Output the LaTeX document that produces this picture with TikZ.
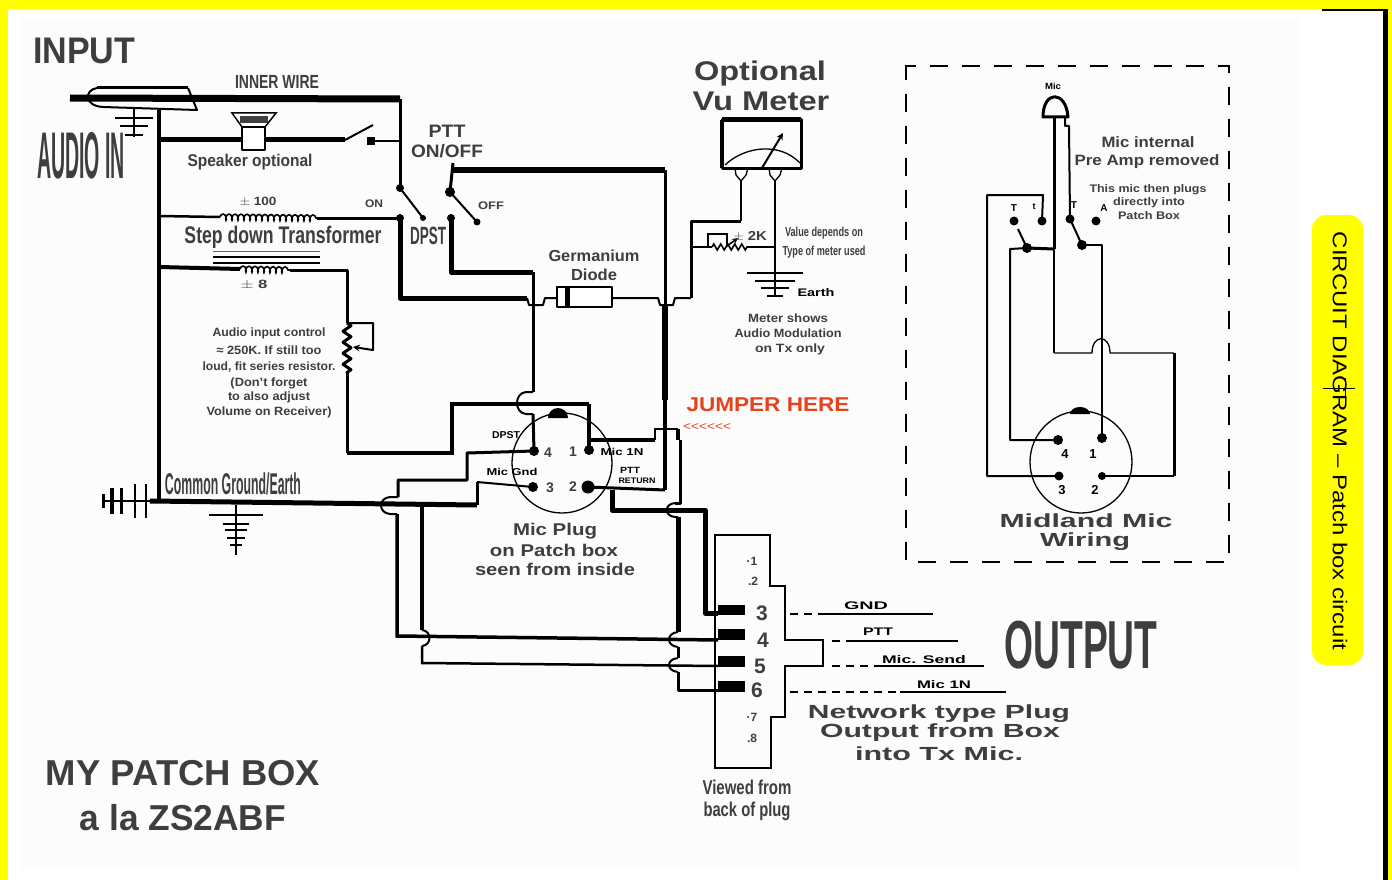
\documentclass[tikz,border=0pt]{standalone}
\usepackage{graphicx}
\usepackage{fontspec}
\setsansfont{Liberation Sans}
\usetikzlibrary{decorations.pathmorphing}
% squeeze text to a given width: width, font size, text
\newcommand{\fitw}[3]{\fontsize{#2}{#2}\selectfont\resizebox{#1pt}{\height}{#3}}

\begin{document}
\begin{tikzpicture}[x=1pt,y=-1pt,
    lbl/.style={inner sep=0pt,text=textgray,font=\sffamily},
    blbl/.style={inner sep=0pt,text=textgray,font=\sffamily\bfseries},
    wire/.style={line width=3pt,line join=round},
    fatwire/.style={line width=5pt,line join=round},
    thinwire/.style={line width=2pt,line join=round},
    hair/.style={line width=1.3pt,line join=round},
    pinnode/.style={circle,fill=black,inner sep=0pt,minimum size=#1},
    pinnode/.default=10pt]
    % Define colors
    \definecolor{framecolor}{RGB}{255,255,0}
    \definecolor{papercolor}{RGB}{252,252,252}
    \definecolor{textgray}{RGB}{62,62,62}
    \definecolor{jumpercolor}{RGB}{232,66,26}

    % Draw background
    \useasboundingbox (0,0) rectangle (1392,880);
    \fill[framecolor] (0,0) rectangle (1392,880);
    \fill[white] (8,9) rectangle (1383,880);
    \fill[papercolor] (19,18) rectangle (1299,870);
    \fill[black] (1383,9) rectangle (1388,880);
    \draw[line width=2pt] (1322,10) -- (1384,10);

    % Titles
    \node[blbl] (inputtitle) at (84,51) {\fitw{102}{37}{INPUT}};
    \node[blbl] (audioin) at (81,156) {\fitw{88}{66}{AUDIO IN}};
    \node[blbl] (patchtitle) at (183,773) {\fitw{274}{36}{MY PATCH BOX}};
    \node[blbl] (zstitle) at (183,818) {\fitw{206}{36}{a la ZS2ABF}};
    \node[blbl] (outputtitle) at (1081,645) {\fitw{153}{68}{OUTPUT}};

    % Jack and inner wire
    \coordinate (jackl) at (70,98);
    \coordinate (innerr) at (400,99);
    \draw[line width=7pt] (jackl) -- (innerr);
    \coordinate (jacka) at (97,88);
    \coordinate (jackb) at (188,88);
    \coordinate (jackc) at (197,110);
    \coordinate (jackd) at (103,107);
    \draw[thinwire] (jackd) .. controls (84,106) and (84,90) .. (jacka);
    \draw[wire] (jacka) -- (jackb);
    \draw[thinwire] (jackb) -- (jackc) -- (jackd);
    \node[blbl] (innerlabel) at (277,82) {\fitw{84}{19}{INNER WIRE}};

    % Earth at the jack
    \coordinate (jackgnd) at (134,108);
    \coordinate (jackgndb) at (134,137);
    \draw[thinwire] (jackgnd) -- (jackgndb);
    \foreach \yy/\hw in {118/19,126/14,135/9}
        \draw[line width=1.4pt] (134-\hw,\yy) -- (134+\hw,\yy);

    % Common rail
    \coordinate (railtop) at (159,110);
    \coordinate (railbot) at (159,501);
    \draw[line width=4.5pt] (railtop) -- (railbot);

    % Speaker branch
    \coordinate (spkl) at (159,140);
    \coordinate (spka) at (242,140);
    \coordinate (spkb) at (265,140);
    \coordinate (swa) at (345,140);
    \coordinate (swb) at (373,125);
    \coordinate (swr) at (400,141);
    \draw[fatwire] (spkl) -- (spka);
    \draw[fatwire] (spkb) -- (swa);
    \draw[thinwire] (swa) -- (swb);
    \node[fill=black,inner sep=0pt,minimum size=8pt] (swcontact) at (371,141) {};
    \draw[thinwire] (swcontact.center) -- (swr);
    \draw[thinwire,fill=white] (242,127) rectangle (265,150);
    \draw[line width=1.5pt,fill=white] (232,113) -- (276,113) -- (265,127) -- (242,127) -- cycle;
    \fill[black!75] (240,116) rectangle (268,123);
    \node[blbl] (spklabel) at (250,162) {\fitw{125}{17}{Speaker optional}};

    % DPST switch, first half
    \node[pinnode=8pt] (dpsta) at (400,188) {};
    \node[pinnode=8pt] (dpstc) at (400,218) {};
    \node[pinnode=6pt] (dpstb) at (423,218) {};
    \draw[wire] (innerr) -- (dpsta.center);
    \draw[thinwire] (dpsta.center) -- (dpstb.center);
    \node[blbl] (onlabel) at (374,204) {\fitw{18}{11}{ON}};

    % DPST switch, second half
    \node[pinnode=10pt] (ptta) at (450,192) {};
    \node[pinnode=8pt] (pttc) at (451,218) {};
    \node[pinnode=7pt] (pttb) at (477,222) {};
    \draw[thinwire] (ptta.center) -- (pttb.center);
    \node[blbl] (offlabel) at (491,206) {\fitw{26}{11}{OFF}};
    \node[blbl] (pttlabel) at (447,131) {\fitw{37}{18}{PTT}};
    \node[blbl] (pttonoff) at (447,151) {\fitw{72}{18}{ON/OFF}};
    \node[blbl] (dpstlabel) at (428,236) {\fitw{36}{25}{DPST}};

    % Transformer primary
    \coordinate (prima) at (159,216);
    \coordinate (primb) at (220,217);
    \coordinate (primc) at (317,218);
    \draw[line width=2.5pt] (prima) -- (primb);
    \draw[line width=1.6pt,decorate,decoration={coil,segment length=6pt,amplitude=3pt}] (primb) -- (primc);
    \draw[wire] (primc) -- (dpstc.center);
    \node[blbl] (primratio) at (258,202) {\fitw{37}{12}{$\pm$ 100}};
    \node[blbl] (steplabel) at (283,237) {\fitw{197}{24}{Step down Transformer}};

    % Transformer core
    \draw[line width=.6pt,black!60] (213,251) -- (320,251);
    \draw[line width=1.6pt] (213,257) -- (320,257);
    \draw[line width=1.6pt] (213,263) -- (320,263);

    % Transformer secondary and volume pot
    \coordinate (seca) at (159,267);
    \coordinate (secb) at (240,269);
    \coordinate (secc) at (290,270);
    \coordinate (seccorner) at (347,270);
    \coordinate (pota) at (347,323);
    \coordinate (potb) at (347,373);
    \coordinate (potc) at (347,453);
    \coordinate (potd) at (452,453);
    \coordinate (pote) at (452,404);
    \coordinate (potf) at (589,404);
    \coordinate (wipa) at (373,323);
    \coordinate (wipb) at (373,350);
    \coordinate (wipc) at (353,347);
    \draw[line width=4pt] (seca) -- (secb);
    \draw[line width=1.6pt,decorate,decoration={coil,segment length=6pt,amplitude=3pt}] (secb) -- (secc);
    \draw[wire] (secc) -- (seccorner) -- (pota);
    \draw[wire,decorate,decoration={zigzag,segment length=11pt,amplitude=4pt}] (pota) -- (potb);
    \draw[thinwire,->,>=stealth] (pota) -- (wipa) -- (wipb) -- (wipc);
    \node[blbl] (secratio) at (254,285) {\fitw{27}{12}{$\pm$ 8}};
    \node[blbl] (aua) at (269,333) {\fitw{113}{12}{Audio input control}};
    \node[blbl] (aub) at (269,350) {\fitw{105}{12}{≈ 250K. If still too}};
    \node[blbl] (auc) at (269,367) {\fitw{133}{12}{loud, fit series resistor.}};
    \node[blbl] (aud) at (269,383) {\fitw{77}{12}{(Don't forget}};
    \node[blbl] (aue) at (269,397) {\fitw{82}{12}{to also adjust}};
    \node[blbl] (auf) at (269,412) {\fitw{125}{12}{Volume on Receiver)}};

    % Earth bus
    \coordinate (busl) at (103,501);
    \coordinate (busr) at (477,505);
    \coordinate (busup) at (477,482);
    \draw[line width=5pt] (150,501) -- (busr);
    \draw[wire] (busr) -- (busup);
    \draw[thinwire] (busl) -- (150,501);
    \foreach \xx/\hh/\wd in {103/7/3,112/13/4,121/13/3,135/17/2.5,146/17/2.5}
        \draw[line width=\wd pt] (\xx,501-\hh) -- (\xx,501+\hh);
    \node[blbl] (commonlabel) at (233,484) {\fitw{136}{30}{Common Ground/Earth}};

    % Earth below the bus
    \coordinate (gndtop) at (236,505);
    \coordinate (gndbot) at (236,555);
    \draw[thinwire] (gndtop) -- (gndbot);
    \foreach \yy/\hw in {515/27,524/13,530/11,538/9,545/6}
        \draw[line width=1.6pt] (236-\hw,\yy) -- (236+\hw,\yy);

    % Mic plug on the patch box
    \draw[line width=1.3pt] (562,463) circle (50);
    \fill[black] (548,418) -- (568,418) arc (0:-180:10) -- cycle;
    \node[pinnode=10pt] (pfour) at (534,451) {};
    \node[pinnode=10pt] (pone) at (589,450) {};
    \node[pinnode=10pt] (pthree) at (533,487) {};
    \node[pinnode=13pt] (ptwo) at (588,487) {};
    \node[blbl] (dfour) at (548,453) {\fontsize{14}{14}\selectfont 4};
    \node[blbl] (done) at (573,452) {\fontsize{14}{14}\selectfont 1};
    \node[blbl] (dthree) at (550,488) {\fontsize{14}{14}\selectfont 3};
    \node[blbl] (dtwo) at (573,487) {\fontsize{14}{14}\selectfont 2};
    \node[blbl,text=black] (plabfour) at (506,435) {\fitw{28}{10}{DPST}};
    \node[blbl,text=black] (plabthree) at (512,472) {\fitw{51}{10}{Mic Gnd}};
    \node[blbl,text=black] (plabone) at (622,452) {\fitw{43}{10}{Mic 1N}};
    \node[blbl,text=black] (plabptt) at (630,470) {\fitw{20}{9}{PTT}};
    \node[blbl,text=black] (plabret) at (637,481) {\fitw{37}{8}{RETURN}};
    \node[blbl] (pluga) at (555,531) {\fitw{84}{17}{Mic Plug}};
    \node[blbl] (plugb) at (554,550) {\fitw{128}{17}{on Patch box}};
    \node[blbl] (plugc) at (555,569) {\fitw{160}{17}{seen from inside}};

    % Third pin to earth bus
    \draw[thinwire] (busup) -- (pthree.center);

    % Fourth pin, hops over the bus and runs to the plug
    \coordinate (fa) at (467,453);
    \coordinate (fb) at (467,480);
    \coordinate (fc) at (398,480);
    \coordinate (fd) at (398,497);
    \coordinate (fe) at (390,497);
    \coordinate (ff) at (390,514);
    \coordinate (fg) at (397,514);
    \coordinate (fh) at (397,636);
    \coordinate (fi) at (718,640);
    \draw[wire] (pfour.center) -- (fa) -- (fb) -- (fc) -- (fd);
    \draw[thinwire] (fd) -- (fe) .. controls (378,498) and (378,513) .. (ff) -- (fg);
    \draw[line width=3.5pt] (fg) -- (fh) -- (fi);

    % Ptt feed
    \coordinate (topcap) at (453,163);
    \coordinate (topl) at (453,170);
    \coordinate (topr) at (665,170);
    \coordinate (vhop) at (665,305);
    \coordinate (vmid) at (665,400);
    \coordinate (vbot) at (665,490);
    \coordinate (vjoin) at (612,490);
    \coordinate (vjoinb) at (612,510);
    \coordinate (vright) at (705,510);
    \coordinate (vdown) at (705,613);
    \coordinate (vplug) at (718,613);
    \draw[line width=6pt] (topl) -- (topr);
    \draw[wire] (ptta.center) -- (topcap);
    \draw[wire] (topr) -- (vhop);
    \draw[line width=6pt] (vhop) -- (vmid);
    \draw[line width=4.5pt] (vmid) -- (vbot);
    \draw[wire] (vbot) -- (ptwo.center);
    \draw[fatwire] (vjoin) -- (vjoinb) -- (vright) -- (vdown) -- (vplug);

    % Diode branch
    \coordinate (pttlow) at (451,272);
    \coordinate (pttmid) at (533,272);
    \coordinate (dpstlow) at (400,298);
    \coordinate (hopa) at (527,298);
    \coordinate (hopb) at (545,298);
    \coordinate (diodel) at (557,298);
    \coordinate (dioder) at (612,298);
    \coordinate (hopc) at (658,298);
    \coordinate (hopd) at (675,298);
    \coordinate (meterl) at (691,298);
    \coordinate (meterm) at (691,221);
    \coordinate (metern) at (741,221);
    \draw[fatwire] (dpstc.center) -- (dpstlow) -- (hopa);
    \draw[fatwire] (pttc.center) -- (pttlow) -- (pttmid);
    \draw[wire] (pttmid) -- (533,392);
    \draw[thinwire] (hopa) -- (529,305) -- (543,305) -- (hopb) -- (diodel);
    \draw[thinwire] (dioder) -- (hopc) -- (660,305) -- (673,305) -- (hopd) -- (meterl);
    \draw[wire] (meterl) -- (meterm) -- (metern);
    \draw[thinwire,fill=white] (557,287) rectangle (612,307);
    \fill[black] (565,287) rectangle (570,307);
    \node[blbl] (gera) at (594,256) {\fitw{91}{16}{Germanium}};
    \node[blbl] (gerb) at (594,275) {\fitw{46}{16}{Diode}};

    % Pin wires around the plug
    \coordinate (xa) at (533,392);
    \coordinate (xb) at (526,392);
    \coordinate (xc) at (526,414);
    \coordinate (xd) at (533,414);
    \draw[thinwire] (xa) -- (xb) .. controls (514,393) and (514,413) .. (xc) -- (xd);
    \draw[wire] (xd) -- (pfour.center);
    \draw[line width=4pt] (potc) -- (potd) -- (pote) -- (potf);
    \draw[wire] (potb) -- (potc);
    \draw[line width=4pt] (potf) -- (pone.center);

    % Jumper
    \coordinate (ja) at (590,440);
    \coordinate (jb) at (655,440);
    \coordinate (jc) at (655,429);
    \coordinate (jd) at (678,429);
    \coordinate (je) at (678,440);
    \coordinate (jf) at (680,440);
    \coordinate (jg) at (680,503);
    \coordinate (jh) at (675,503);
    \coordinate (ji) at (675,517);
    \coordinate (jj) at (678,517);
    \coordinate (jk) at (678,632);
    \draw[line width=4.5pt] (ja) -- (jb);
    \draw[hair] (jb) -- (jc) -- (jd);
    \draw[line width=4pt] (jd) -- (je);
    \draw[wire] (jf) -- (jg) -- (jh);
    \draw[thinwire] (jh) .. controls (664,504) and (664,516) .. (ji) -- (jj);
    \draw[fatwire] (jj) -- (jk);
    \node[blbl,text=jumpercolor] (jumperlabel) at (768,405) {\fitw{163}{20}{JUMPER HERE}};
    \node[lbl,text=jumpercolor] (jumperarrow) at (707,427) {\fitw{48}{12}{<{}<{}<{}<{}<{}<}};

    % Runs from the bus down to the plug
    \coordinate (ra) at (422,506);
    \coordinate (rb) at (422,630);
    \coordinate (rc) at (422,646);
    \coordinate (rd) at (422,663);
    \coordinate (re) at (718,666);
    \draw[line width=3.5pt] (ra) -- (rb);
    \draw[thinwire] (rb) .. controls (432,631) and (432,645) .. (rc);
    \draw[line width=2.5pt] (rc) -- (rd) -- (re);

    % Hops on the vertical run to pin 6
    \coordinate (sa) at (678,647);
    \coordinate (sb) at (678,658);
    \coordinate (sc) at (678,672);
    \coordinate (sd) at (678,690);
    \coordinate (se) at (718,690);
    \draw[thinwire] (jk) .. controls (666,633) and (666,646) .. (sa);
    \draw[wire] (sa) -- (sb);
    \draw[thinwire] (sb) .. controls (666,659) and (666,671) .. (sc);
    \draw[wire] (sc) -- (sd) -- (se);

    % Network plug
    \draw[line width=1.6pt] (715,535) -- (770,535) -- (770,586) -- (785,586) -- (785,640) -- (823,640) -- (823,666)
        -- (785,666) -- (785,717) -- (771,717) -- (771,768) -- (715,768) -- cycle;
    \node[fill=black,inner sep=0pt,minimum width=27pt,minimum height=10pt] (nthree) at (731.5,610) {};
    \node[fill=black,inner sep=0pt,minimum width=27pt,minimum height=11pt] (nfour) at (731.5,634) {};
    \node[fill=black,inner sep=0pt,minimum width=27pt,minimum height=11pt] (nfive) at (731.5,661) {};
    \node[fill=black,inner sep=0pt,minimum width=27pt,minimum height=11pt] (nsix) at (731.5,686) {};
    \node[blbl] (none) at (752,561) {\fontsize{12}{12}\selectfont ·1};
    \node[blbl] (ntwo) at (753,581) {\fontsize{12}{12}\selectfont .2};
    \node[blbl] (lthree) at (762,613) {\fontsize{21}{21}\selectfont 3};
    \node[blbl] (lfour) at (763,640) {\fontsize{21}{21}\selectfont 4};
    \node[blbl] (lfive) at (760,666) {\fontsize{21}{21}\selectfont 5};
    \node[blbl] (lsix) at (757,690) {\fontsize{21}{21}\selectfont 6};
    \node[blbl] (lseven) at (752,717) {\fontsize{12}{12}\selectfont ·7};
    \node[blbl] (leight) at (752,738) {\fontsize{12}{12}\selectfont .8};

    % Output lines
    \foreach \lineid/\ya/\xa/\xb/\xc in {ga/614/790/826/933,gb/641/832/850/958,gc/666/832/878/984,gd/692/790/900/1006}{
        \coordinate (\lineid l) at (\xa,\ya);
        \coordinate (\lineid m) at (\xb,\ya);
        \coordinate (\lineid r) at (\xc,\ya);
        \draw[thinwire,dash pattern=on 8pt off 6pt] (\lineid l) -- (\lineid m);
        \draw[thinwire] (\lineid m) -- (\lineid r);
    }
    \node[blbl,text=black] (outgnd) at (866,606) {\fitw{44}{11}{GND}};
    \node[blbl,text=black] (outptt) at (878,632) {\fitw{30}{11}{PTT}};
    \node[blbl,text=black] (outsend) at (924,660) {\fitw{84}{11}{Mic. Send}};
    \node[blbl,text=black] (outmic) at (944,685) {\fitw{54}{11}{Mic 1N}};
    \node[blbl] (neta) at (939,714) {\fitw{262}{19}{Network type Plug}};
    \node[blbl] (netb) at (940,733) {\fitw{240}{19}{Output from Box}};
    \node[blbl] (netc) at (939,754) {\fitw{168}{19}{into Tx Mic.}};
    \node[blbl] (viewa) at (747,787) {\fitw{89}{20}{Viewed from}};
    \node[blbl] (viewb) at (747,811) {\fitw{87}{20}{back of plug}};

    % Vu meter
    \node[blbl] (opta) at (760,74) {\fitw{132}{27}{Optional}};
    \node[blbl] (optb) at (761,101) {\fitw{137}{27}{Vu Meter}};
    \draw[wire] (722,120) rectangle (801,168);
    \draw[line width=5pt] (722,120) -- (801,120);
    \draw[line width=4pt] (722,120) -- (722,168);
    \draw[hair] (725,165) .. controls (745,146) and (780,142) .. (800,163);
    \draw[thinwire,->,>=stealth] (762,168) -- (783,133);
    \coordinate (terma) at (741,180);
    \coordinate (termb) at (775,180);
    \coordinate (termc) at (775,297);
    \draw[hair] (735,168) -- (736,175) -- (741,181) -- (746,175) -- (748,168);
    \draw[hair] (769,168) -- (770,175) -- (775,181) -- (780,175) -- (782,168);
    \draw[thinwire] (metern) -- (terma);
    \draw[thinwire] (termb) -- (termc);

    % Meter resistor
    \coordinate (rsa) at (691,247);
    \coordinate (rsb) at (712,247);
    \coordinate (rsc) at (750,247);
    \coordinate (rsd) at (775,247);
    \draw[thinwire] (rsa) -- (rsb);
    \draw[line width=1.6pt,decorate,decoration={zigzag,segment length=7pt,amplitude=3pt}] (rsb) -- (rsc);
    \draw[thinwire] (rsc) -- (rsd);
    \draw[line width=1.6pt,->,>=stealth] (708,247) -- (708,234) -- (727,234) -- (727,246) -- (738,238);
    \node[blbl] (rslabel) at (750,236) {\fitw{34}{13}{$\pm$ 2K}};
    \foreach \yy/\hw in {273/28,281/20,288/14,296/8}
        \draw[line width=1.6pt] (775-\hw,\yy) -- (775+\hw,\yy);
    \node[blbl,text=black] (earthlabel) at (816,293) {\fitw{37}{11}{Earth}};
    \node[blbl] (vala) at (824,233) {\fitw{78}{13}{Value depends on}};
    \node[blbl] (valb) at (824,252) {\fitw{83}{13}{Type of meter used}};
    \node[blbl] (mta) at (788,318) {\fitw{80}{12}{Meter shows}};
    \node[blbl] (mtb) at (788,333) {\fitw{107}{12}{Audio Modulation}};
    \node[blbl] (mtc) at (790,349) {\fitw{70}{12}{on Tx only}};

    % Midland mic box
    \draw[line width=2pt,dash pattern=on 18pt off 14pt] (906,74) -- (906,66) -- (1229,66) -- (1229,562) -- (906,562) -- cycle;

    % Midland mic head
    \draw[wire] (1043,117) .. controls (1043,90) and (1066,90) .. (1068,117) -- cycle;
    \node[blbl,text=black] (miclabel) at (1053,86) {\fitw{16}{9}{Mic}};
    \node[blbl] (mida) at (1148,142) {\fitw{93}{15}{Mic internal}};
    \node[blbl] (midb) at (1147,162) {\fitw{145}{15}{Pre Amp removed}};
    \node[blbl] (midc) at (1148,190) {\fitw{117}{11}{This mic then plugs}};
    \node[blbl] (midd) at (1149,203) {\fitw{72}{11}{directly into}};
    \node[blbl] (mide) at (1149,216) {\fitw{62}{11}{Patch Box}};
    \node[blbl] (midf) at (1086,521) {\fitw{173}{19}{Midland Mic}};
    \node[blbl] (midg) at (1085,542) {\fitw{90}{19}{Wiring}};

    % Midland switch contacts
    \node[pinnode=9pt] (sla) at (1014,221) {};
    \node[pinnode=9pt] (slb) at (1042,221) {};
    \node[pinnode=10pt] (slc) at (1027,248) {};
    \node[pinnode=9pt] (sra) at (1070,219) {};
    \node[pinnode=9pt] (srb) at (1096,221) {};
    \node[pinnode=10pt] (src) at (1082,245) {};
    \node[blbl,text=black] (tla) at (1014,208) {\fontsize{10}{10}\selectfont T};
    \node[blbl,text=black] (tlb) at (1034,207) {\fontsize{9}{9}\selectfont t};
    \node[blbl,text=black] (tra) at (1074,205) {\fontsize{10}{10}\selectfont T};
    \node[blbl,text=black] (trb) at (1104,208) {\fontsize{10}{10}\selectfont A};
    \draw[thinwire] (slc.center) -- (1018,229);
    \draw[thinwire] (src.center) -- (sra.center);

    % Midland plug
    \draw[line width=1.3pt] (1081,462) circle (51);
    \fill[black] (1070,414) -- (1090,414) arc (0:-180:10 and 7) -- cycle;
    \node[pinnode=10pt] (mfour) at (1058,440) {};
    \node[pinnode=10pt] (mone) at (1102,438) {};
    \node[pinnode=9pt] (mthree) at (1059,476) {};
    \node[pinnode=8pt] (mtwo) at (1102,476) {};
    \node[blbl,text=black] (mdfour) at (1065,454) {\fontsize{13}{13}\selectfont 4};
    \node[blbl,text=black] (mdone) at (1093,454) {\fontsize{13}{13}\selectfont 1};
    \node[blbl,text=black] (mdthree) at (1062,490) {\fontsize{13}{13}\selectfont 3};
    \node[blbl,text=black] (mdtwo) at (1095,490) {\fontsize{13}{13}\selectfont 2};

    % Midland wiring
    \coordinate (mla) at (1054,117);
    \coordinate (mlb) at (1054,353);
    \coordinate (mlc) at (1092,353);
    \coordinate (mld) at (1110,353);
    \coordinate (mle) at (1174,353);
    \coordinate (mlf) at (1174,476);
    \coordinate (mra) at (1065,117);
    \coordinate (mrb) at (1065,126);
    \coordinate (mrc) at (1069,126);
    \coordinate (mrd) at (1102,245);
    \coordinate (mme) at (1054,249);
    \coordinate (mmf) at (1010,249);
    \coordinate (mmg) at (1010,440);
    \coordinate (moa) at (987,195);
    \coordinate (mob) at (1043,195);
    \coordinate (moc) at (987,476);
    \draw[wire] (mla) -- (mme);
    \draw[thinwire] (mme) -- (mlb);
    \draw[hair] (mlb) -- (mlc) .. controls (1092,334) and (1110,334) .. (mld) -- (mle);
    \draw[wire] (mle) -- (mlf);
    \draw[thinwire] (mlf) -- (mtwo.center);
    \draw[thinwire] (mra) -- (mrb) -- (mrc) -- (sra.center);
    \draw[thinwire] (src.center) -- (mrd) -- (mone.center);
    \draw[wire] (slc.center) -- (mme);
    \draw[thinwire] (slc.center) -- (mmf) -- (mmg) -- (mfour.center);
    \draw[thinwire] (slb.center) -- (mob) -- (moa) -- (moc) -- (mthree.center);

    % Side banner
    \fill[framecolor,rounded corners=14pt] (1312,215) rectangle (1363,665);
    \node[lbl,text=black,rotate=-90] (bannertext) at (1340,441) {\fitw{418}{20}{CIRCUIT DIAGRAM – Patch box circuit}};
    \draw[line width=.7pt] (1323,388) -- (1355,388);
    \draw[line width=.7pt] (1345,378) -- (1345,398);
\end{tikzpicture}
\end{document}
